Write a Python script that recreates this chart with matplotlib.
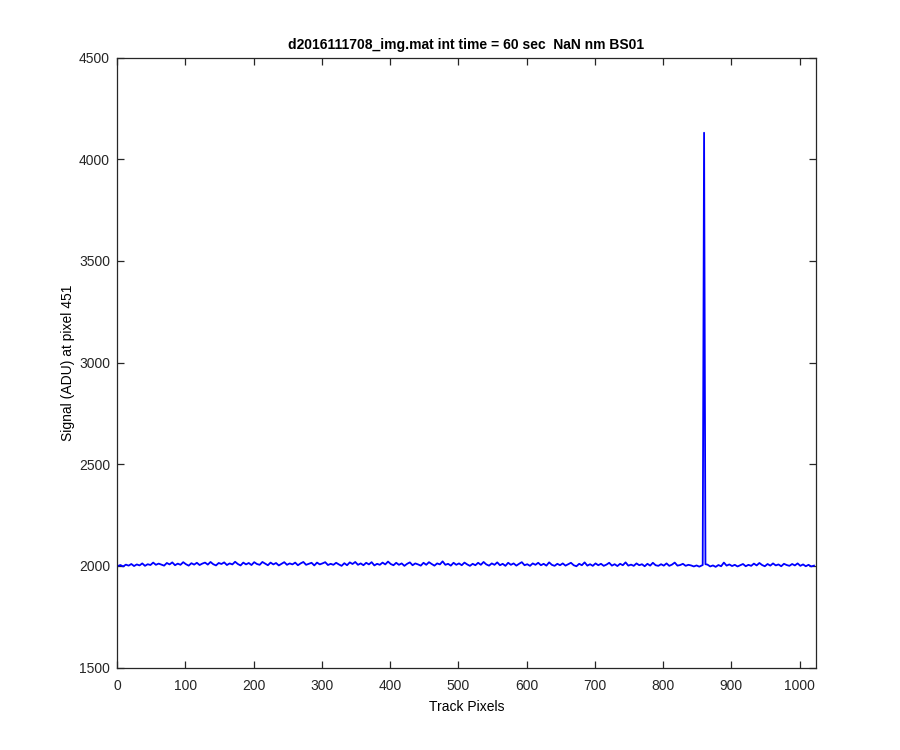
import numpy as np
import matplotlib
matplotlib.use("Agg")
import matplotlib.pyplot as plt

title = "d2016111708_img.mat int time = 60 sec  NaN nm BS01"
xlabel = "Track Pixels"
ylabel = "Signal (ADU) at pixel 451"

# Baseline signal sampled every 4 track pixels (pixel 1, 5, 9, ... 1021)
base_values = [
    1999, 2004, 1997, 2006, 2001, 2009, 1999, 2007, 2002, 2012, 2000, 2008, 2004, 2016, 2005, 2011,
    2006, 2001, 2014, 2007, 2017, 2003, 2011, 2005, 2018, 2008, 2001, 2013, 2006, 2015, 2004, 2011,
    2016, 2006, 2019, 2008, 2002, 2014, 2009, 2017, 2004, 2012, 2007, 2020, 2009, 2002, 2016, 2007,
    2014, 2004, 2018, 2009, 2005, 2019, 2011, 2003, 2016, 2007, 2014, 2002, 2010, 2018, 2005, 2012,
    2007, 2016, 2003, 2012, 2019, 2005, 2010, 2015, 2002, 2016, 2007, 2012, 2018, 2004, 2010, 2005,
    2015, 2007, 2000, 2013, 2003, 2017, 2009, 2019, 2005, 2012, 2003, 2015, 2007, 2018, 2002, 2010,
    2005, 2016, 2007, 2021, 2009, 2003, 2015, 2005, 2012, 2000, 2010, 2017, 2003, 2012, 2007, 2001,
    2015, 2005, 2018, 2009, 2001, 2012, 2007, 2022, 2005, 2010, 2001, 2015, 2005, 2012, 2003, 2016,
    2007, 2000, 2010, 2003, 2015, 2005, 2019, 2007, 2001, 2012, 2005, 2017, 2003, 2010, 2000, 2015,
    2005, 2012, 2001, 2010, 2018, 2003, 2008, 2000, 2012, 2005, 2015, 2003, 2010, 2001, 2017, 2005,
    2000, 2010, 2003, 2012, 2001, 2008, 2015, 2003, 1998, 2010, 2003, 2017, 2001, 2008, 2000, 2012,
    2003, 2010, 2000, 2006, 2015, 2001, 2008, 1999, 2010, 2003, 2017, 2001, 2006, 2000, 2012, 2003,
    2008, 1998, 2010, 2001, 2015, 2003, 2000, 2008, 2001, 2012, 2000, 2006, 2016, 2001, 2004, 2010,
    2000, 2005, 2002, 1997, 2002, 1996, 2004, 1999, 2006, 1997, 2002, 1995, 2004, 1998, 2016, 2001,
    2007, 1999, 2005, 1997, 2003, 2009, 1998, 2005, 2000, 2011, 2002, 2014, 2004, 1998, 2009, 2001,
    2012, 2002, 2007, 1998, 2010, 2004, 2000, 2009, 2002, 2012, 2000, 2007, 1998, 2005, 1997, 2001,
]

# Spike region (track pixel, signal)
spike_pixels = [858, 860, 862]
spike_values = [2004, 4130, 2008]

base_pixels = np.arange(1, 1025, 4)
n_base = len(base_pixels)
x = np.concatenate([base_pixels, spike_pixels])
y = np.concatenate([base_values, spike_values])
is_base = np.arange(len(x)) < n_base
mask = ~(is_base & (x >= 857) & (x <= 863))
x, y = x[mask], y[mask]
order = np.argsort(x, kind="stable")
x, y = x[order], y[order]

plt.rcParams['font.family'] = ['Liberation Sans', 'DejaVu Sans']

fig = plt.figure(figsize=(9, 7.5), dpi=100, facecolor='white')
ax = fig.add_axes([0.13, 0.11, 0.7767, 0.8133])
ax.plot(x, y, color=(0, 0, 1), linewidth=1.3)

ax.set_xlim(0, 1024)
ax.set_ylim(1500, 4500)
ax.set_xticks(np.arange(0, 1001, 100))
ax.set_yticks(np.arange(1500, 4501, 500))
ax.tick_params(direction='in', top=True, right=True, length=5, width=0.9,
               labelsize=10, colors='#262626', labelcolor='#262626')
ax.tick_params(axis='x', pad=8)
ax.tick_params(axis='y', pad=5)
for s in ax.spines.values():
    s.set_color('#262626')
    s.set_linewidth(0.9)

ax.set_title(title, fontsize=10, fontweight='bold', pad=6)
ax.set_xlabel(xlabel, fontsize=10, labelpad=5)
ax.set_ylabel(ylabel, fontsize=10, labelpad=3)

fig.savefig("out.png", dpi=100, facecolor='white')
